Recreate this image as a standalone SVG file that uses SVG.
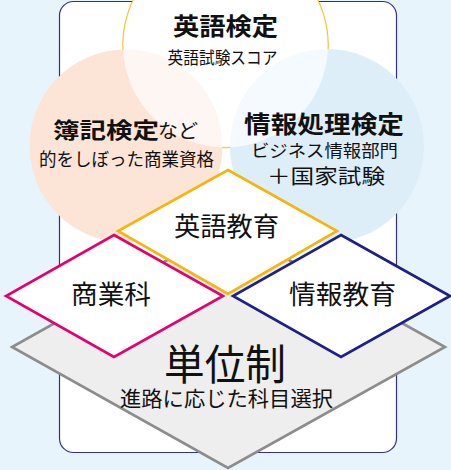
<svg xmlns="http://www.w3.org/2000/svg" width="451" height="470" viewBox="0 0 451 470">
<style>
text{font-family:"Noto Sans CJK JP","Noto Sans",sans-serif;fill:#111;text-anchor:middle}
.b{font-weight:bold}
.dia{stroke-width:2.6;stroke-linejoin:miter}
</style>
<rect x="0" y="0" width="451" height="470" fill="#E8F4FC"/>
<g id="frame">
<rect x="59.5" y="1.5" width="337" height="451" rx="14" fill="#FFFFFF" stroke="#2E3192" stroke-width="1.2"/>
</g>
<g id="eiken-circle">
<circle cx="225.5" cy="45" r="102.5" fill="#FFFFFF" stroke="#F5B50A" stroke-width="1.5"/>
</g>
<g id="boki-circle">
<circle cx="126" cy="146" r="96.5" fill="#FCE4D6"/>
</g>
<g id="joho-circle">
<circle cx="327" cy="146" r="97" fill="#DDEEF9"/>
</g>
<circle cx="225.5" cy="45" r="102.5" fill="#FFFFFF" opacity="0.68"/>
<g id="eiken-text">
<text class="b" x="225.5" y="35" font-size="24" textLength="105" lengthAdjust="spacingAndGlyphs">英語検定</text>
<text x="222.5" y="63.5" font-size="17" textLength="110" lengthAdjust="spacingAndGlyphs">英語試験スコア</text>
</g>
<g id="boki-text">
<text class="b" x="106" y="137.5" font-size="22" textLength="106" lengthAdjust="spacingAndGlyphs">簿記検定</text>
<text x="178" y="137.5" font-size="19" textLength="40" lengthAdjust="spacingAndGlyphs">など</text>
<text x="126.5" y="166" font-size="18" textLength="175" lengthAdjust="spacingAndGlyphs">的をしぼった商業資格</text>
</g>
<g id="joho-text">
<text class="b" x="324" y="133" font-size="24" textLength="160" lengthAdjust="spacingAndGlyphs">情報処理検定</text>
<text x="324.5" y="157" font-size="17" textLength="147" lengthAdjust="spacingAndGlyphs">ビジネス情報部門</text>
<text x="326" y="184" font-size="20" textLength="118" lengthAdjust="spacingAndGlyphs">＋国家試験</text>
</g>
<g id="tanisei">
<polygon class="dia" points="228,226 445,347 228,468 12,347" fill="#EEEEEE" stroke="#8C8C8C"/>
<text x="225" y="380" font-size="42" textLength="122" lengthAdjust="spacingAndGlyphs">単位制</text>
<text x="226.5" y="406" font-size="21" textLength="213" lengthAdjust="spacingAndGlyphs">進路に応じた科目選択</text>
</g>
<g id="shogyo">
<polygon class="dia" points="114,235 223,296 114,357 6,296" fill="#FFFFFF" stroke="#E4006E"/>
<text x="111" y="304" font-size="26" textLength="80" lengthAdjust="spacingAndGlyphs">商業科</text>
</g>
<g id="joho">
<polygon class="dia" points="341,235 450,296 341,357 233,296" fill="#FFFFFF" stroke="#1D2087"/>
<text x="342.5" y="304" font-size="26" textLength="107" lengthAdjust="spacingAndGlyphs">情報教育</text>
</g>
<g id="eigo">
<polygon class="dia" points="228,170 337,231 228,294 118,231" fill="#FFFFFF" stroke="#F5B50A"/>
<text x="226.5" y="236" font-size="26" textLength="105" lengthAdjust="spacingAndGlyphs">英語教育</text>
</g>
</svg>
